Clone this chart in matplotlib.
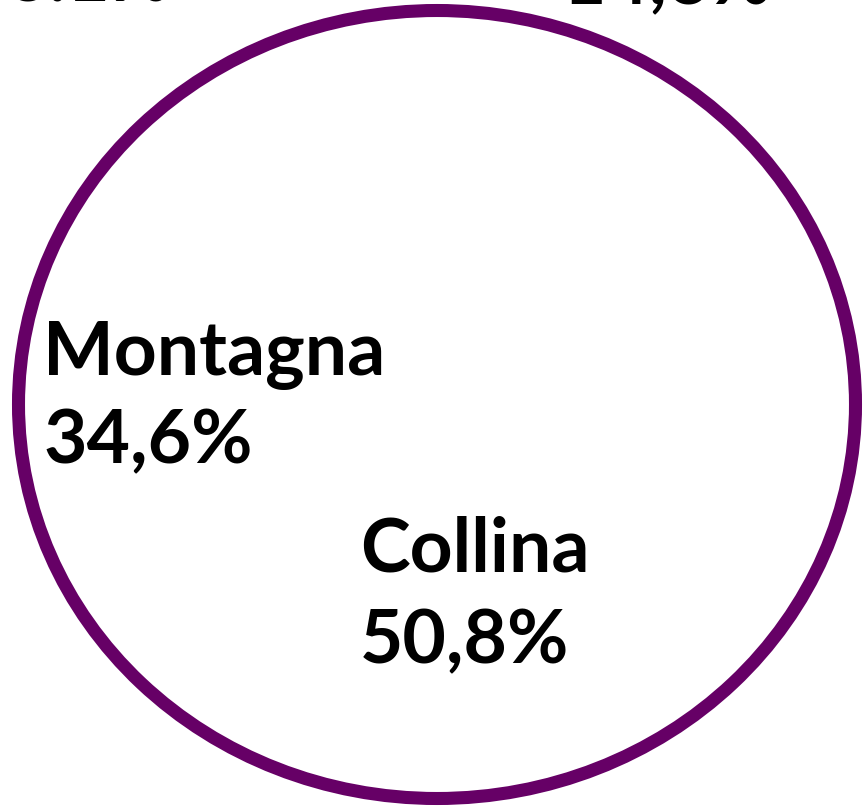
import matplotlib.pyplot as plt
from matplotlib.patches import Circle

# dati del grafico
categorie = ['Pianura', 'Montagna', 'Collina']
valori = [14.6, 34.6, 50.8]
etichetta_tagliata = '6.1%'

W, H = 865, 809
viola = '#660066'

fig = plt.figure(figsize=(W / 100, H / 100), dpi=100)
ax = fig.add_axes([0, 0, 1, 1])

ax.pie(valori, colors=['white'] * len(valori), startangle=65,
       wedgeprops={'edgecolor': 'none'})
ax.add_patch(Circle((0, 0), 1, fill=False, ec=viola, lw=9.4))

# ellisse: semiasse x ~418 px, y ~394 px, centro (437, 404)
rx, ry = 418.5, 394.0
cx, cy = 437.0, 404.5
ax.set_xlim(-cx / rx, (W - cx) / rx)
ax.set_ylim(-(H - cy) / ry, cy / ry)
ax.set_aspect('auto')
ax.axis('off')


def px(x, y):
    return x / W, 1 - y / H


def fmt(v):
    return f'{v:.1f}'.replace('.', ',') + '%'


font = dict(family='Lato', weight='bold', fontsize=54, color='black',
            transform=fig.transFigure, va='baseline')

# Montagna
fig.text(*px(43, 375), categorie[1], ha='left', **font)
fig.text(*px(43, 463), fmt(valori[1]), ha='left', **font)
# Collina
fig.text(*px(360, 572), categorie[2], ha='left', **font)
fig.text(*px(360, 663), fmt(valori[2]), ha='left', **font)
# Pianura (etichetta tagliata in alto)
fig.text(*px(772, -84), categorie[0], ha='right', **font)
fig.text(*px(772, 4), fmt(valori[0]), ha='right', **font)
# testo tagliato in alto a sinistra
fig.text(*px(172, 2), etichetta_tagliata, ha='right', **font)

fig.savefig('out.png', dpi=100)
